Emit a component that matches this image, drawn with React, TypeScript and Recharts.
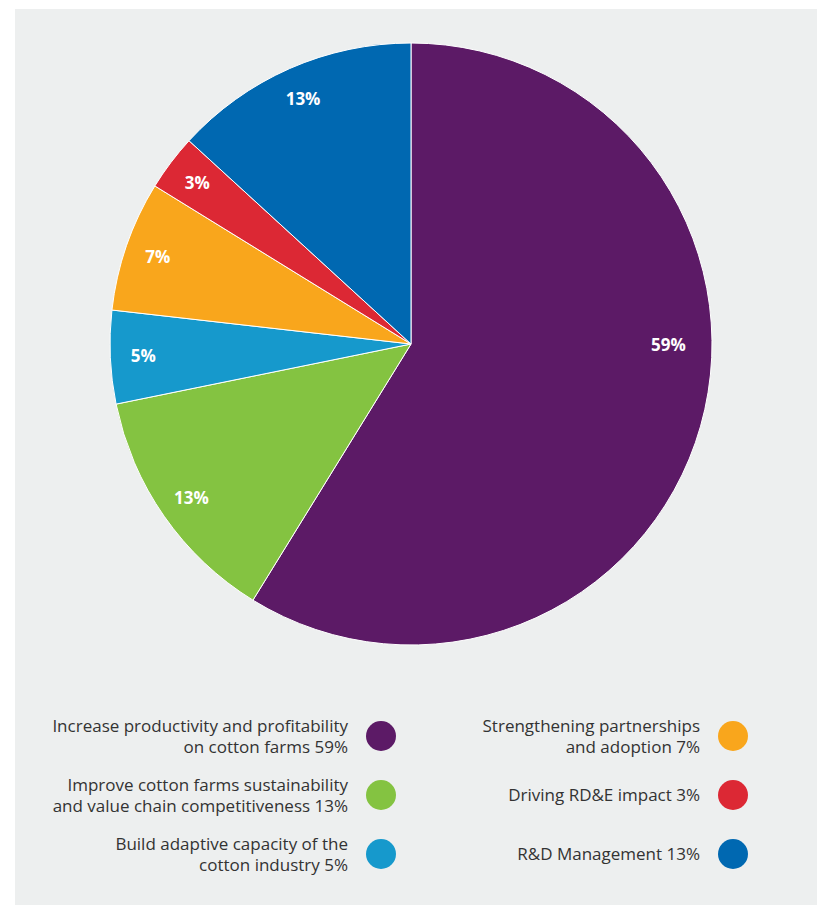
import React from "react";
import { PieChart, Pie, Cell, Legend } from "recharts";

const categories = [
  "Increase productivity and profitability on cotton farms",
  "Improve cotton farms sustainability and value chain competitiveness",
  "Build adaptive capacity of the cotton industry",
  "Strengthening partnerships and adoption",
  "Driving RD&E impact",
  "R&D Management",
];
const shares = [58.8, 13, 5, 7, 3, 13.2];
const percentLabels = ["59%", "13%", "5%", "7%", "3%", "13%"];
// legend text split over lines as printed
const legendLines = [
  ["Increase productivity and profitability", "on cotton farms 59%"],
  ["Improve cotton farms sustainability", "and value chain competitiveness 13%"],
  ["Build adaptive capacity of the", "cotton industry 5%"],
  ["Strengthening partnerships", "and adoption 7%"],
  ["Driving RD&E impact 3%"],
  ["R&D Management 13%"],
];
const colors = ["#5c1a66", "#84c341", "#1699cc", "#f9a61c", "#dc2834", "#0068b1"];

const data = categories.map((name, i) => ({ name, value: shares[i] }));

const RADIAN = Math.PI / 180;

const renderLabel = (props: any) => {
  const { cx, cy, midAngle, outerRadius, index } = props;
  // the big slice's label sits level with the centre in the original
  const angle = index === 0 ? 0 : midAngle;
  const r = index === 0 ? outerRadius * 0.855 : outerRadius * 0.89;
  const x = cx + r * Math.cos(-angle * RADIAN);
  const y = cy + r * Math.sin(-angle * RADIAN);
  return (
    <text
      x={x}
      y={y}
      fill="#ffffff"
      textAnchor="middle"
      dominantBaseline="central"
      fontFamily="'Open Sans', sans-serif"
      fontWeight={700}
      fontSize={17}
    >
      {percentLabels[index]}
    </text>
  );
};

const LegendBlock = () => {
  const item = (i: number) => (
    <div
      key={i}
      style={{
        display: "flex",
        alignItems: "center",
        justifyContent: "flex-end",
        height: 59,
      }}
    >
      <div style={{ textAlign: "right", lineHeight: "21px", marginRight: 18 }}>
        {legendLines[i].map((l, j) => (
          <div key={j}>{l}</div>
        ))}
      </div>
      <div
        style={{
          width: 30,
          height: 30,
          borderRadius: 15,
          background: colors[i],
          flexShrink: 0,
        }}
      />
    </div>
  );
  return (
    <div
      style={{
        fontFamily: "'Open Sans', sans-serif",
        fontSize: 17,
        color: "#333333",
        position: "relative",
        width: 817,
        height: 200,
      }}
    >
      <div style={{ position: "absolute", left: 0, width: 396, top: 0 }}>
        {[0, 1, 2].map(item)}
      </div>
      <div style={{ position: "absolute", left: 0, width: 748, top: 0 }}>
        {[3, 4, 5].map(item)}
      </div>
    </div>
  );
};

export default function App() {
  return (
    <div
      style={{
        position: "absolute",
        left: 0,
        top: 0,
        width: 817,
        height: 912,
        background: "#ffffff",
      }}
    >
      <div
        style={{
          position: "absolute",
          left: 15,
          top: 9,
          width: 802,
          height: 896,
          background: "#edefef",
        }}
      />
      <div style={{ position: "absolute", left: 0, top: 0 }}>
        <PieChart
          width={817}
          height={912}
          margin={{ top: 0, right: 0, bottom: 0, left: 0 }}
        >
          <Pie
            data={data}
            dataKey="value"
            nameKey="name"
            cx={411}
            cy={344}
            outerRadius={301}
            startAngle={90}
            endAngle={-270}
            stroke="#ffffff"
            strokeWidth={1}
            label={renderLabel}
            labelLine={false}
            isAnimationActive={false}
          >
            {data.map((d, i) => (
              <Cell key={d.name} fill={colors[i]} />
            ))}
          </Pie>
          <Legend
            content={() => <LegendBlock />}
            wrapperStyle={{ position: "absolute", left: 0, top: 706, width: 817 }}
          />
        </PieChart>
      </div>
    </div>
  );
}
